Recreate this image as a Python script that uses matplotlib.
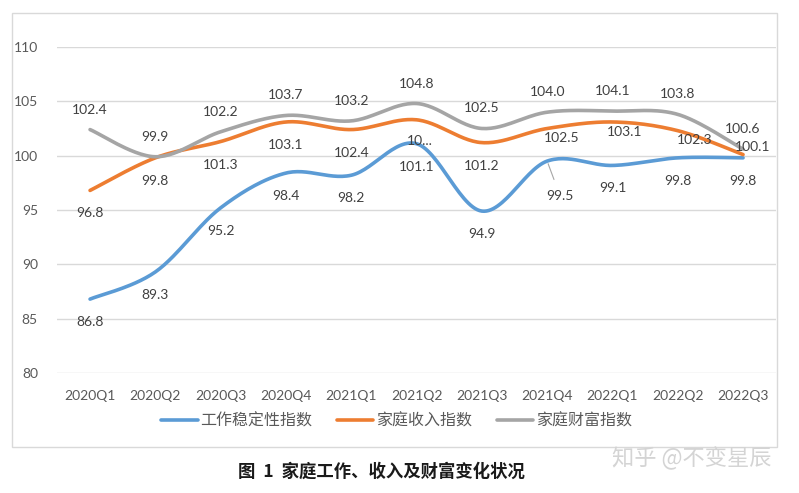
import matplotlib.pyplot as plt
import numpy as np
from matplotlib.patches import Rectangle

quarters = ["2020Q1", "2020Q2", "2020Q3", "2020Q4", "2021Q1", "2021Q2",
            "2021Q3", "2021Q4", "2022Q1", "2022Q2", "2022Q3"]
work = [86.8, 89.3, 95.2, 98.4, 98.2, 101.1, 94.9, 99.5, 99.1, 99.8, 99.8]
income = [96.8, 99.8, 101.3, 103.1, 102.4, 103.3, 101.2, 102.5, 103.1, 102.3, 100.1]
wealth = [102.4, 99.9, 102.2, 103.7, 103.2, 104.8, 102.5, 104.0, 104.1, 103.8, 100.6]
names = ["工作稳定性指数", "家庭收入指数", "家庭财富指数"]
# the income label at 2021Q2 is cut off in the source chart
income_text = {5: "10..."}


def smooth(y, n=30):
    """Excel-style smoothed line (Catmull-Rom through every point)."""
    y = np.asarray(y, dtype=float)
    x = np.arange(len(y), dtype=float)
    xs, ys = [], []
    t = np.linspace(0, 1, n)
    for i in range(len(y) - 1):
        i0, i3 = max(i - 1, 0), min(i + 2, len(y) - 1)
        for arr, out in ((x, xs), (y, ys)):
            p0, p1, p2, p3 = arr[i0], arr[i], arr[i + 1], arr[i3]
            c1 = p1 + (p2 - p0) / 6
            c2 = p2 - (p3 - p1) / 6
            out.append((1 - t) ** 3 * p1 + 3 * (1 - t) ** 2 * t * c1
                       + 3 * (1 - t) * t ** 2 * c2 + t ** 3 * p2)
    return np.concatenate(xs), np.concatenate(ys)


plt.rcParams["font.family"] = ["Lato", "Noto Sans CJK SC", "DejaVu Sans"]

fig = plt.figure(figsize=(7.99, 4.93), dpi=100)
fig.patches.append(Rectangle((12 / 799, 1 - 447 / 493), 765 / 799, 434 / 493,
                             transform=fig.transFigure, fill=False,
                             edgecolor="#d9d9d9", lw=1))
ax = fig.add_axes([57.4 / 799, 1 - 373 / 493, 718.3 / 799, 326 / 493])

colors = ["#5B9BD5", "#ED7D31", "#A5A5A5"]
series = [work, income, wealth]
for vals, c, name in zip(series, colors, names):
    sx, sy = smooth(vals)
    ax.plot(sx, sy, color=c, lw=2.6, solid_capstyle="round", label=name)

ax.set_xlim(-0.5, len(quarters) - 0.5)
ax.set_ylim(80, 110)
ax.set_yticks(np.arange(80, 111, 5))
ax.set_xticks(range(len(quarters)))
ax.set_xticklabels(quarters)
ax.yaxis.grid(True, color="#d9d9d9", lw=1)
ax.set_axisbelow(True)
for s in ax.spines.values():
    s.set_visible(False)
ax.tick_params(axis="both", length=0, labelsize=10, labelcolor="#595959")
ax.tick_params(axis="y", pad=14)
ax.tick_params(axis="x", pad=12)

lab = dict(textcoords="offset pixels", ha="center", va="center",
           fontsize=10, color="#404040")
# wealth labels above, the others below
for i, v in enumerate(wealth):
    ax.annotate(f"{v:.1f}", (i, v), xytext=(0, 20), **lab)

inc_off = {5: (3, -21), 7: (15, -10), 8: (12, -10), 9: (17, -9), 10: (10, 8)}
for i, v in enumerate(income):
    ax.annotate(income_text.get(i, f"{v:.1f}"), (i, v),
                xytext=inc_off.get(i, (0, -23)), **lab)

for i, v in enumerate(work):
    if i == 7:
        ax.annotate(f"{v:.1f}", (i, v), xytext=(13, -35),
                    arrowprops=dict(arrowstyle="-", color="#a6a6a6", lw=0.8,
                                    shrinkA=6, shrinkB=2), **lab)
    else:
        ax.annotate(f"{v:.1f}", (i, v), xytext=(0, -23), **lab)

fig.legend(loc="center", bbox_to_anchor=(0.496, 1 - 421 / 493), ncol=3,
           frameon=False, handlelength=2.3, handletextpad=0.15,
           columnspacing=1.55, prop={"family": ["Noto Sans CJK SC"], "size": 11.5},
           labelcolor="#595959")

fig.text(0.477, 1 - 472 / 493, "图  1  家庭工作、收入及财富变化状况",
         ha="center", va="center", fontsize=12.5, fontweight="bold",
         family=["Noto Sans CJK SC", "DejaVu Sans"], color="#1a1a1a")
fig.text(692 / 799, 1 - 458 / 493, "知乎 @不变星辰", ha="center", va="center",
         fontsize=16, family=["Noto Sans CJK SC", "DejaVu Sans"], color="#d4d4d4")

fig.savefig("out.png", dpi=100)
